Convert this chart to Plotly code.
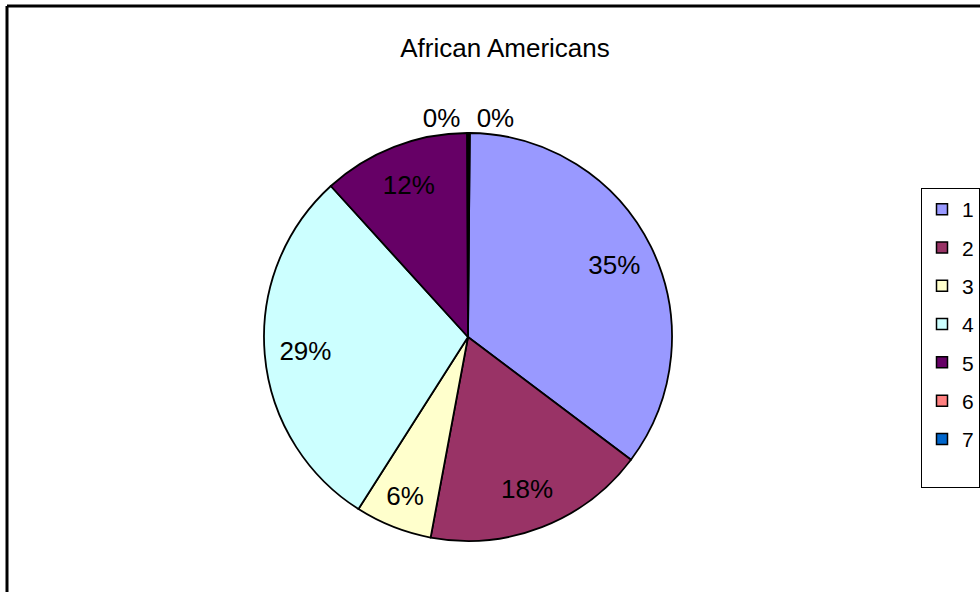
import plotly.graph_objects as go

categories = ["1", "2", "3", "4", "5", "6", "7"]
values = [35.2, 17.7, 6.1, 29.3, 11.7, 0.1, 0.1]
colors = ["#9999FF", "#993366", "#FFFFCC", "#CCFFFF", "#660066", "#FF8080", "#0066CC"]
title_text = "African Americans"

W, H = 980, 592
cx, cy, r = 468, 337, 204
FONT = "Liberation Sans, Arial"
dom = dict(x=[(cx - r) / W, (cx + r) / W], y=[1 - (cy + r) / H, 1 - (cy - r) / H])

fig = go.Figure()
# filled pie
fig.add_trace(go.Pie(
    labels=categories, values=values, sort=False, direction="clockwise", rotation=0.5,
    marker=dict(colors=colors, line=dict(color="black", width=1.8)),
    textinfo="none", domain=dom, showlegend=False, hoverinfo="label+percent",
))
# label layer (transparent ring so labels sit near the rim, as in the original)
fig.add_trace(go.Pie(
    labels=categories, values=values, sort=False, direction="clockwise", rotation=0.5,
    hole=0.6,
    marker=dict(colors=["rgba(0,0,0,0)"] * len(categories), line=dict(width=0)),
    texttemplate="%{percent:.0%}",
    textposition=["inside"] * 5 + ["outside"] * 2,
    insidetextorientation="horizontal",
    insidetextfont=dict(family=FONT, size=26, color="black"),
    outsidetextfont=dict(family=FONT, size=26, color="black"),
    domain=dom, showlegend=False, hoverinfo="skip",
))

n = len(categories)
for i, (c, col) in enumerate(zip(categories, colors)):
    fig.add_trace(go.Scatter(
        x=[None], y=[None], mode="markers",
        name=c + ("<br>\u00a0" if i == n - 1 else ""),
        marker=dict(symbol="square", size=11, color=col, line=dict(color="black", width=1.5)),
        legendgroup=c, showlegend=True,
    ))

fig.update_layout(
    width=W, height=H,
    margin=dict(l=0, r=0, t=0, b=0),
    paper_bgcolor="white", plot_bgcolor="white",
    xaxis=dict(visible=False, range=[0, 1]),
    yaxis=dict(visible=False, range=[0, 1]),
    title=dict(text=title_text, x=505 / W, xanchor="center", y=1 - 48 / H, yanchor="middle",
               font=dict(family=FONT, size=26, color="black")),
    legend=dict(x=921 / W, y=1 - 188 / H, xanchor="left", yanchor="top",
                bordercolor="black", borderwidth=1, bgcolor="white",
                font=dict(family=FONT, size=21, color="black"),
                tracegroupgap=8, itemwidth=30, valign="top"),
    shapes=[
        dict(type="line", xref="paper", yref="paper", x0=7 / W, x1=1, y0=1 - 6 / H, y1=1 - 6 / H,
             line=dict(color="black", width=3)),
        dict(type="line", xref="paper", yref="paper", x0=7 / W, x1=7 / W, y0=0, y1=1 - 6 / H,
             line=dict(color="black", width=3)),
    ],
)

fig.write_html("out.html", config={"displayModeBar": False},
               post_script="document.body.style.margin='0';")
